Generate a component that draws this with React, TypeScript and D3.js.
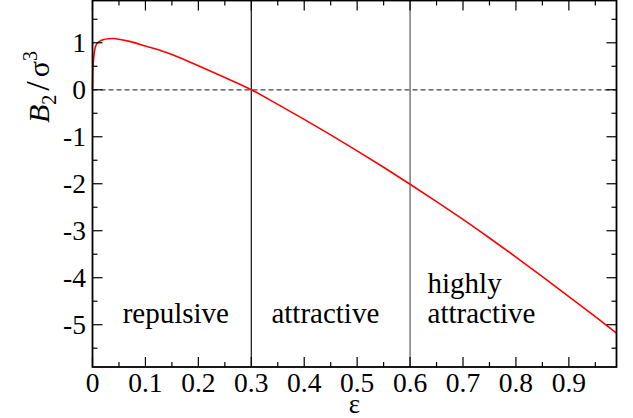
import React from "react";
import * as d3 from "d3";

const epsValues = [0, 0.0005, 0.001, 0.002, 0.004, 0.006, 0.01, 0.015, 0.02, 0.03, 0.04, 0.05, 0.07, 0.1, 0.13, 0.15, 0.2, 0.25, 0.3, 0.35, 0.4, 0.45, 0.5, 0.55, 0.6, 0.65, 0.7, 0.75, 0.8, 0.85, 0.9, 0.95, 0.99];
const b2Values = [0, 0.35, 0.5, 0.65, 0.84, 0.93, 1.0, 1.04, 1.065, 1.085, 1.09, 1.075, 1.03, 0.93, 0.83, 0.75, 0.51, 0.26, 0.0, -0.31, -0.63, -0.96, -1.3, -1.65, -2.01, -2.38, -2.76, -3.155, -3.56, -3.975, -4.4, -4.83, -5.18];
const xTickValues = [0, 0.1, 0.2, 0.3, 0.4, 0.5, 0.6, 0.7, 0.8, 0.9];
const xTickLabels = ["0", "0.1", "0.2", "0.3", "0.4", "0.5", "0.6", "0.7", "0.8", "0.9"];
const xMinorTicks = [0.05, 0.15, 0.25, 0.35, 0.45, 0.55, 0.65, 0.75, 0.85, 0.95];
const yTickValues = [1, 0, -1, -2, -3, -4, -5];
const yTickLabels = ["1", "0", "-1", "-2", "-3", "-4", "-5"];
const yMinorTicks = [1.5, 0.5, -0.5, -1.5, -2.5, -3.5, -4.5, -5.5];
const regionLines = [0.3, 0.6];
const regionLabels = [
  { x: 0.057, lines: ["repulsive"] },
  { x: 0.338, lines: ["attractive"] },
  { x: 0.633, lines: ["highly", "attractive"] },
];

const W = 633, H = 418;
const L = 92.5, R = 616.5, T = 0.5, B = 367;
const FONT = "Liberation Serif";
const tf = { fontFamily: FONT };

export default function App() {
  const x = d3.scaleLinear().domain([0, 0.99]).range([L, R]);
  const y = d3.scaleLinear().domain([-5.9, 1.9]).range([B, T]);
  const pts = epsValues.map((e, i) => [e, b2Values[i]] as [number, number]);
  const line = d3.line<[number, number]>().x(d => x(d[0])).y(d => y(d[1])).curve(d3.curveMonotoneX);
  const maj = 10, min = 5;
  return (
    <svg width={W} height={H} style={{ position: "absolute", left: 0, top: 0, background: "#fff" }}>
      <rect x={0} y={0} width={W} height={H} fill="#fff" />
      <line x1={L} x2={R} y1={y(0)} y2={y(0)} stroke="#444" strokeWidth={1.3} strokeDasharray="5,3" />
      <line x1={x(regionLines[0])} x2={x(regionLines[0])} y1={T} y2={B} stroke="#111" strokeWidth={1.2} />
      <line x1={x(regionLines[1])} x2={x(regionLines[1])} y1={T} y2={B} stroke="#7a7a7a" strokeWidth={1.5} />
      <path d={line(pts) || ""} fill="none" stroke="#ff0000" strokeWidth={1.6} />
      {xTickValues.map(v => (
        <g key={"xt" + v}>
          <line x1={x(v)} x2={x(v)} y1={B} y2={B - maj} stroke="#000" strokeWidth={1.2} />
          <line x1={x(v)} x2={x(v)} y1={T} y2={T + maj} stroke="#000" strokeWidth={1.2} />
        </g>
      ))}
      {xMinorTicks.map(v => (
        <g key={"xm" + v}>
          <line x1={x(v)} x2={x(v)} y1={B} y2={B - min} stroke="#000" strokeWidth={1.2} />
          <line x1={x(v)} x2={x(v)} y1={T} y2={T + min} stroke="#000" strokeWidth={1.2} />
        </g>
      ))}
      {yTickValues.map(v => (
        <g key={"yt" + v}>
          <line x1={L} x2={L + maj} y1={y(v)} y2={y(v)} stroke="#000" strokeWidth={1.2} />
          <line x1={R} x2={R - maj} y1={y(v)} y2={y(v)} stroke="#000" strokeWidth={1.2} />
        </g>
      ))}
      {yMinorTicks.map(v => (
        <g key={"ym" + v}>
          <line x1={L} x2={L + min} y1={y(v)} y2={y(v)} stroke="#000" strokeWidth={1.2} />
          <line x1={R} x2={R - min} y1={y(v)} y2={y(v)} stroke="#000" strokeWidth={1.2} />
        </g>
      ))}
      <rect x={L} y={T} width={R - L} height={B - T} fill="none" stroke="#000" strokeWidth={1.8} />
      {xTickValues.map((v, i) => (
        <text key={"xl" + v} x={x(v)} y={392} textAnchor="middle" fontSize={27.5} fill="#000" style={tf}>{xTickLabels[i]}</text>
      ))}
      {yTickValues.map((v, i) => (
        <text key={"yl" + v} x={86} y={y(v) + 9} textAnchor="end" fontSize={27.5} fill="#000" style={tf}>{yTickLabels[i]}</text>
      ))}
      {regionLabels.map((r, i) => (
        <text key={"rl" + i} x={x(r.x)} y={r.lines.length > 1 ? 293 : 323} fontSize={29} fill="#000" style={tf}>
          {r.lines.map((s, j) => (
            <tspan key={j} x={x(r.x)} dy={j === 0 ? 0 : 30}>{s}</tspan>
          ))}
        </text>
      ))}
      <text x={(L + R) / 2} y={413} textAnchor="middle" fontSize={27} fill="#000" style={tf}>ε</text>
      <text transform="translate(48.5,123) rotate(-90)" fontSize={30} fill="#000" style={tf}>
        <tspan fontStyle="italic">B</tspan>
        <tspan fontSize={20} dy={7}>2</tspan>
        <tspan dy={-7} dx={4} fontSize={34}>/</tspan>
        <tspan dx={4}>σ</tspan>
        <tspan fontSize={20} dy={-12}>3</tspan>
      </text>
    </svg>
  );
}
